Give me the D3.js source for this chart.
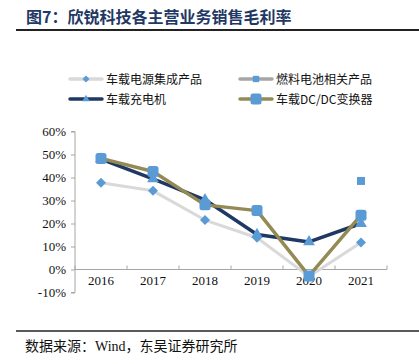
<!DOCTYPE html>
<html><head><meta charset="utf-8">
<script src="https://cdn.jsdelivr.net/npm/d3@7"></script>
<style>body{margin:0;background:#fff}svg{display:block}</style>
</head><body>
<script>
const years = ["2016","2017","2018","2019","2020","2021"];
const powerIntegrated = [37.7, 34.2, 21.5, 13.8, -3.0, 11.7];   // 车载电源集成产品
const fuelCell = [null, null, null, null, null, 38.5];             // 燃料电池相关产品
const charger = [48.0, 39.4, 30.3, 15.2, 12.0, 20.0];              // 车载充电机
const dcdc = [48.3, 42.6, 28.1, 25.6, -2.8, 23.6];                 // 车载DC/DC变换器
const yTicks = [-10, 0, 10, 20, 30, 40, 50, 60];

const W = 419, H = 364;
const svg = d3.select("body").append("svg").attr("width", W).attr("height", H);
const cjk = "'Noto Sans CJK SC', sans-serif";
const serif = "'Liberation Serif', 'Times New Roman', serif";

// title
svg.append("text").attr("x", 26).attr("y", 23)
  .attr("font-family", cjk).attr("font-weight", "bold").attr("font-size", 16)
  .attr("fill", "#1F3864").text("图7：欣锐科技各主营业务销售毛利率");
svg.append("line").attr("x1", 16).attr("x2", W).attr("y1", 30).attr("y2", 30)
  .attr("stroke", "#222").attr("stroke-width", 2);
svg.append("line").attr("x1", 16).attr("x2", W).attr("y1", 331).attr("y2", 331)
  .attr("stroke", "#222").attr("stroke-width", 1.5);
const src = svg.append("text").attr("x", 25).attr("y", 351)
  .attr("font-family", cjk).attr("font-size", 14).attr("fill", "#111");
src.append("tspan").text("数据来源：");
src.append("tspan").attr("font-family", serif).text("Wind");
src.append("tspan").text("，东吴证券研究所");

const x = d3.scaleBand().domain(years).range([75, 387]);
const y = d3.scaleLinear().domain([-10, 60]).range([292.5, 131.5]);

// y axis
const ya = svg.append("g").attr("transform", "translate(75,0)")
  .call(d3.axisLeft(y).tickValues(yTicks).tickSize(4).tickFormat(d => d + "%"));
ya.select(".domain").attr("stroke", "#A6A6A6").attr("d", "M-4," + y(60) + "H0V" + y(-10) + "H-4");
ya.selectAll(".tick line").attr("stroke", "#A6A6A6");
ya.selectAll(".tick text").attr("font-family", serif).attr("font-size", 13).attr("fill", "#111").attr("x", -9);

// x axis at 0
const xa = svg.append("g").attr("transform", "translate(0," + y(0) + ")")
  .call(d3.axisBottom(x).tickSize(0));
xa.select(".domain").attr("stroke", "#A6A6A6").attr("d", "M75,0H387");
xa.selectAll(".tick text").attr("font-family", serif).attr("font-size", 13).attr("fill", "#111")
  .attr("y", 0).attr("dy", 0).attr("transform", "translate(0," + (y(-5) - y(0) + 4) + ")");
// category boundary ticks
const bounds = years.map(d => x(d)).concat([x.range()[1]]);
xa.selectAll(".bt").data(bounds).enter().append("line")
  .attr("x1", d => d).attr("x2", d => d).attr("y1", -4).attr("y2", 0).attr("stroke", "#A6A6A6");

const cx = d => x(d) + x.bandwidth() / 2;
const line = d3.line().defined(d => d.v != null).x(d => cx(d.k)).y(d => y(d.v));
const pts = arr => years.map((k, i) => ({k, v: arr[i]}));
const mk = "#5B9BD5";

function drawSeries(arr, color, width, sym, size, rot) {
  svg.append("path").datum(pts(arr)).attr("d", line).attr("fill", "none")
    .attr("stroke", color).attr("stroke-width", width).attr("stroke-linejoin", "round");
  svg.selectAll(null).data(pts(arr).filter(d => d.v != null)).enter().append("path")
    .attr("transform", d => "translate(" + cx(d.k) + "," + y(d.v) + ") rotate(" + (rot || 0) + ")")
    .attr("d", d3.symbol().type(sym).size(size)).attr("fill", mk);
}
drawSeries(powerIntegrated, "#D9D9D9", 3, d3.symbolSquare, 50, 45);
drawSeries(fuelCell, "#A6A6A6", 3, d3.symbolSquare, 64);
drawSeries(charger, "#1F3864", 3.5, d3.symbolTriangle, 60);
// DC/DC with rounded squares
svg.append("path").datum(pts(dcdc)).attr("d", line).attr("fill", "none")
  .attr("stroke", "#948A54").attr("stroke-width", 3.5).attr("stroke-linejoin", "round");
svg.selectAll(null).data(pts(dcdc)).enter().append("rect")
  .attr("x", d => cx(d.k) - 5.5).attr("y", d => y(d.v) - 5.5)
  .attr("width", 11).attr("height", 11).attr("rx", 2.5).attr("fill", mk);

// legend
const legend = [
  {name: "车载电源集成产品", color: "#D9D9D9", sym: "diamond", x: 70, y: 79},
  {name: "燃料电池相关产品", color: "#A6A6A6", sym: "square", x: 240, y: 79},
  {name: "车载充电机", color: "#1F3864", sym: "triangle", x: 70, y: 99},
  {name: "车载DC/DC变换器", color: "#948A54", sym: "big", x: 240, y: 99}
];
legend.forEach(l => {
  const g = svg.append("g");
  g.append("line").attr("x1", l.x).attr("x2", l.x + 32).attr("y1", l.y).attr("y2", l.y)
    .attr("stroke", l.color).attr("stroke-width", 3.5).attr("stroke-linecap", "round");
  if (l.sym === "big") {
    g.append("rect").attr("x", l.x + 16 - 5.5).attr("y", l.y - 5.5).attr("width", 11).attr("height", 11)
      .attr("rx", 2.5).attr("fill", mk);
  } else {
    const t = {diamond: d3.symbolSquare, square: d3.symbolSquare, triangle: d3.symbolTriangle}[l.sym];
    g.append("path").attr("transform", "translate(" + (l.x + 16) + "," + l.y + ") rotate(" + (l.sym === "diamond" ? 45 : 0) + ")")
      .attr("d", d3.symbol().type(t).size(l.sym === "square" ? 40 : 24)).attr("fill", mk);
  }
  g.append("text").attr("x", l.x + 36).attr("y", l.y + 4.5)
    .attr("font-family", cjk).attr("font-size", 12).attr("fill", "#111").text(l.name);
});
</script>
</body></html>
